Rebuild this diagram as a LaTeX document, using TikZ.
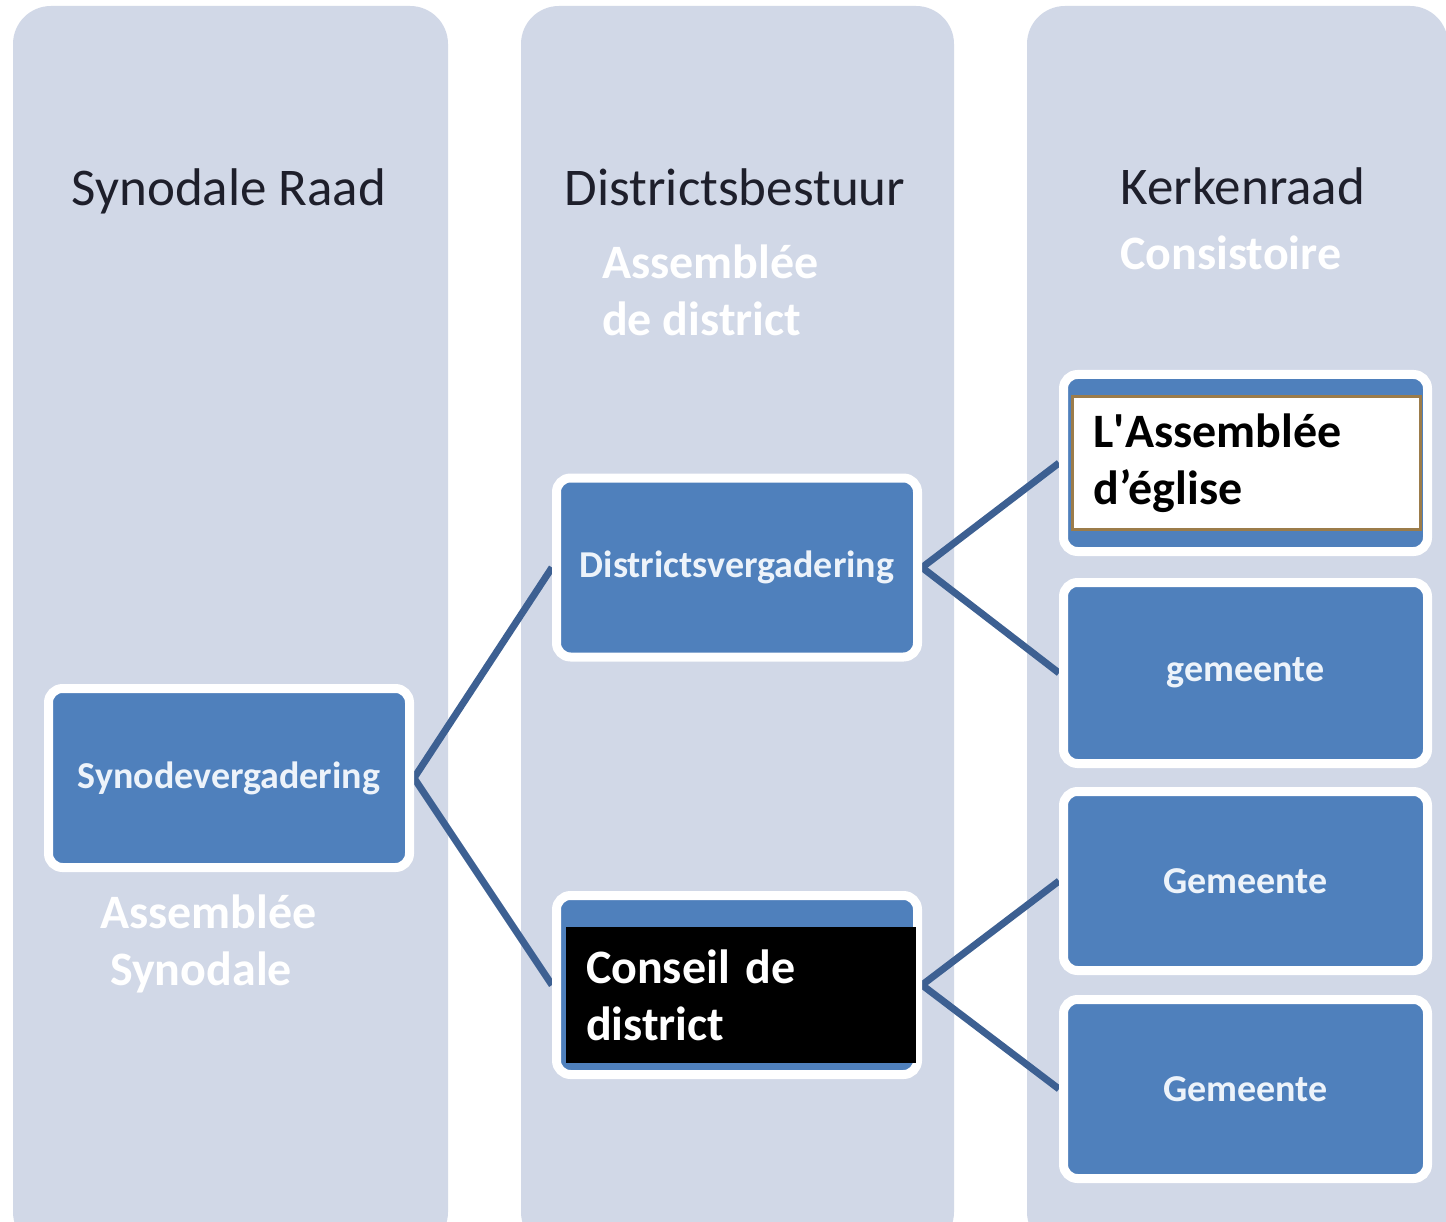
\documentclass[tikz,border=0pt]{standalone}
\usepackage{fontspec}
\setmainfont{Carlito}
\newfontfamily\nomapfont{Carlito}
\definecolor{colfill}{HTML}{D1D8E7}
\definecolor{boxblue}{HTML}{4F80BC}
\definecolor{linkblue}{HTML}{3D6092}
\definecolor{headtext}{HTML}{1E1F2B}
\definecolor{boxtext}{HTML}{EDF3FA}
\definecolor{brownline}{HTML}{9C7C4A}
\pgfdeclarelayer{bg}
\pgfdeclarelayer{lines}
\pgfsetlayers{bg,lines,main}
\begin{document}
\begin{tikzpicture}[x=1pt,y=-1pt,
  colbg/.style={fill=colfill, draw=none, rounded corners=38pt},
  box/.style={fill=boxblue, draw=white, line width=9pt, rounded corners=14pt,
    minimum width=361pt, minimum height=179pt, inner sep=0pt,
    text=boxtext, font=\fontsize{38}{46}\selectfont\bfseries},
  conn/.style={draw=linkblue, line width=7pt},
  head/.style={text=headtext, font=\fontsize{53}{62}\selectfont, anchor=base, inner sep=0pt},
  lbl/.style={text=white, font=\fontsize{48}{57}\selectfont\bfseries, inner sep=0pt, align=left},
  overlay/.style={font=\fontsize{48}{57}\selectfont\bfseries, align=left, inner ysep=0pt,
    minimum height=136pt}
]
\useasboundingbox (0,0) rectangle (1446,1222);
\begin{pgfonlayer}{bg}
  \fill[white] (0,0) rectangle (1446,1222);
  \begin{scope}
    \clip (0,0) rectangle (1446,1222);
    \path[colbg] (13,6) rectangle (448,1250);
    \path[colbg] (521,6) rectangle (954,1250);
    \path[colbg] (1027,6) rectangle (1448,1250);
  \end{scope}
\end{pgfonlayer}

% column headings
\node[head] (h1) at (229,206) {Synodale Raad};
\node[head] (h2) at (735,206) {Districtsbestuur};
\node[head] (h3) at (1243,205) {Kerkenraad};

% French labels (base = baseline of last line)
\node[lbl, anchor=base west] (l2) at (602,336) {Assemblée\\de district};
\node[lbl, anchor=base west] (l3) at (1120,270) {Consistoire};
\node[lbl, anchor=base west] (l1) at (100,985) {Assemblée\\\hspace*{10pt}Synodale};

% boxes
\node[box] (syn) at (229,778) {Synodevergadering};
\node[box] (dv) at (737,567.5) {Districtsvergadering};
\node[box] (cd) at (737,985) {};
\node[box, minimum width=364pt, minimum height=177pt] (ae) at (1245.5,463) {};
\node[box, minimum width=364pt, minimum height=181pt] (gm) at (1245.5,673) {gemeente};
\node[box, minimum width=364pt, minimum height=179pt] (g1) at (1245.5,881) {Gemeente};
\node[box, minimum width=364pt, minimum height=179pt] (g2) at (1245.5,1089) {Gemeente};

% overlays
\node[overlay, fill=white, draw=brownline, line width=3pt, text=black,
  text width=306pt, inner xsep=21pt, minimum height=133pt] (aeo) at (1246.5,463)
  {L{\nomapfont'}Assemblée\\d’église};
\node[overlay, fill=black, text=white, text width=310pt, inner xsep=20pt] (cdo) at (741,995)
  {Conseil de\\district};

% connectors
\begin{pgfonlayer}{lines}
  \draw[conn] (syn.east) -- (dv.west);
  \draw[conn] (syn.east) -- (cd.west);
  \draw[conn] (dv.east) -- (ae.west);
  \draw[conn] (dv.east) -- (gm.west);
  \draw[conn] (cd.east) -- (g1.west);
  \draw[conn] (cd.east) -- (g2.west);
\end{pgfonlayer}
\end{tikzpicture}
\end{document}
